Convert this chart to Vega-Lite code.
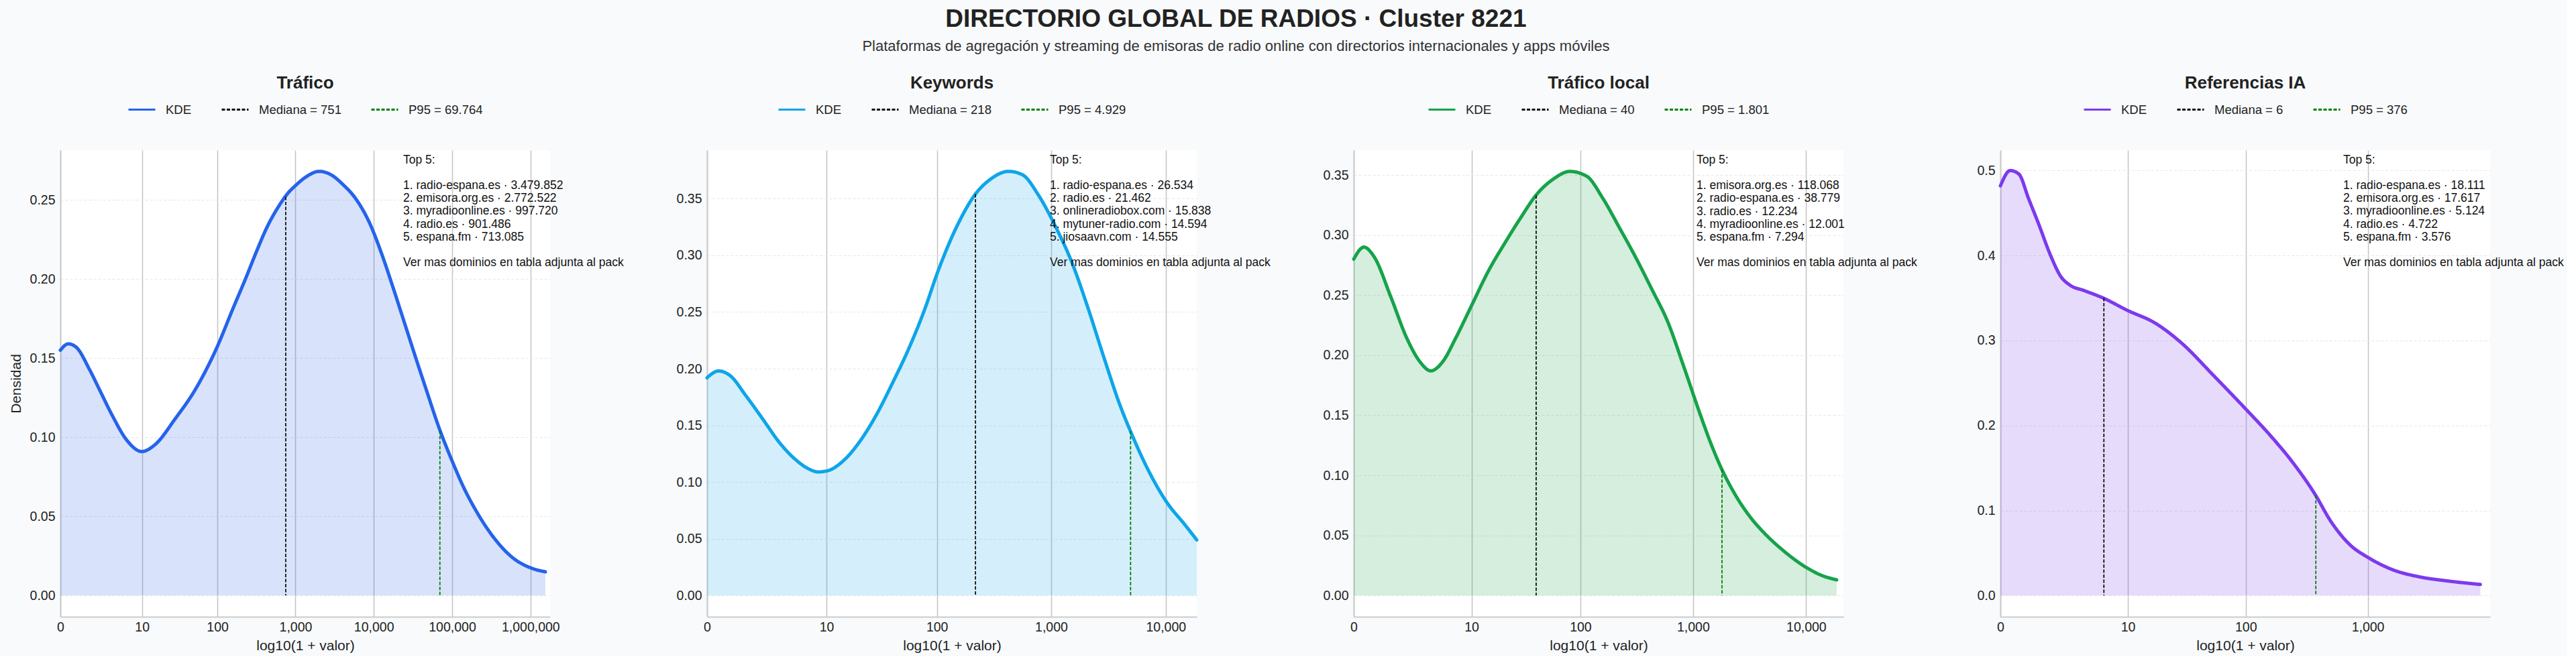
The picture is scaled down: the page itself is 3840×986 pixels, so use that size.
{
  "$schema": "https://vega.github.io/schema/vega-lite/v6.json",
  "background": "#f8fafc",
  "padding": {"left": 13, "top": 10, "right": 5, "bottom": 5},
  "title": {
    "text": "DIRECTORIO GLOBAL DE RADIOS · Cluster 8221",
    "subtitle": "Plataformas de agregación y streaming de emisoras de radio online con directorios internacionales y apps móviles",
    "fontSize": 37,
    "fontWeight": "bold",
    "color": "#222222",
    "subtitleFontSize": 22,
    "subtitleColor": "#333333",
    "subtitlePadding": 11,
    "anchor": "middle",
    "frame": "bounds",
    "dx": -75,
    "offset": 30
  },
  "datasets": {
    "kde_trafico": [
      {"x": 0.00, "densidad": 0.155}, {"x": 0.10, "densidad": 0.159}, {"x": 0.20, "densidad": 0.157},
      {"x": 0.37, "densidad": 0.143}, {"x": 0.50, "densidad": 0.130}, {"x": 0.66, "densidad": 0.114},
      {"x": 0.85, "densidad": 0.098}, {"x": 1.04, "densidad": 0.091}, {"x": 1.20, "densidad": 0.095},
      {"x": 1.47, "densidad": 0.112}, {"x": 1.72, "densidad": 0.130}, {"x": 2.00, "densidad": 0.157},
      {"x": 2.20, "densidad": 0.181}, {"x": 2.37, "densidad": 0.201}, {"x": 2.50, "densidad": 0.217},
      {"x": 2.63, "densidad": 0.232}, {"x": 2.80, "densidad": 0.247}, {"x": 2.90, "densidad": 0.254},
      {"x": 3.00, "densidad": 0.259}, {"x": 3.15, "densidad": 0.265}, {"x": 3.30, "densidad": 0.268},
      {"x": 3.45, "densidad": 0.266}, {"x": 3.60, "densidad": 0.260}, {"x": 3.78, "densidad": 0.250},
      {"x": 3.95, "densidad": 0.235}, {"x": 4.10, "densidad": 0.216}, {"x": 4.25, "densidad": 0.194},
      {"x": 4.40, "densidad": 0.171}, {"x": 4.55, "densidad": 0.148}, {"x": 4.67, "densidad": 0.130},
      {"x": 4.84, "densidad": 0.105}, {"x": 5.00, "densidad": 0.085}, {"x": 5.15, "densidad": 0.068},
      {"x": 5.30, "densidad": 0.054}, {"x": 5.51, "densidad": 0.038}, {"x": 5.77, "densidad": 0.024},
      {"x": 6.03, "densidad": 0.017}, {"x": 6.19, "densidad": 0.015}
    ],
    "kde_keywords": [
      {"x": 0.00, "densidad": 0.192}, {"x": 0.10, "densidad": 0.198}, {"x": 0.20, "densidad": 0.194},
      {"x": 0.34, "densidad": 0.176}, {"x": 0.49, "densidad": 0.155}, {"x": 0.63, "densidad": 0.135},
      {"x": 0.77, "densidad": 0.120}, {"x": 0.88, "densidad": 0.112}, {"x": 0.97, "densidad": 0.109},
      {"x": 1.05, "densidad": 0.110}, {"x": 1.19, "densidad": 0.119}, {"x": 1.34, "densidad": 0.137},
      {"x": 1.48, "densidad": 0.160}, {"x": 1.62, "densidad": 0.188}, {"x": 1.76, "densidad": 0.218},
      {"x": 1.90, "densidad": 0.253}, {"x": 2.01, "densidad": 0.285}, {"x": 2.19, "densidad": 0.328},
      {"x": 2.34, "densidad": 0.354}, {"x": 2.47, "densidad": 0.367}, {"x": 2.63, "densidad": 0.374},
      {"x": 2.75, "densidad": 0.371}, {"x": 2.89, "densidad": 0.353}, {"x": 3.04, "densidad": 0.325},
      {"x": 3.18, "densidad": 0.294}, {"x": 3.32, "densidad": 0.254}, {"x": 3.46, "densidad": 0.210},
      {"x": 3.60, "densidad": 0.168}, {"x": 3.70, "densidad": 0.143}, {"x": 3.83, "densidad": 0.114},
      {"x": 4.01, "densidad": 0.082}, {"x": 4.17, "densidad": 0.062}, {"x": 4.27, "densidad": 0.049}
    ],
    "kde_local": [
      {"x": 0.00, "densidad": 0.280}, {"x": 0.09, "densidad": 0.290}, {"x": 0.18, "densidad": 0.282},
      {"x": 0.33, "densidad": 0.248}, {"x": 0.47, "densidad": 0.214}, {"x": 0.59, "densidad": 0.194},
      {"x": 0.68, "densidad": 0.187}, {"x": 0.79, "densidad": 0.195}, {"x": 0.90, "densidad": 0.214},
      {"x": 1.04, "densidad": 0.241}, {"x": 1.19, "densidad": 0.270}, {"x": 1.34, "densidad": 0.294},
      {"x": 1.48, "densidad": 0.315}, {"x": 1.61, "densidad": 0.333}, {"x": 1.77, "densidad": 0.347},
      {"x": 1.91, "densidad": 0.353}, {"x": 2.06, "densidad": 0.349}, {"x": 2.20, "densidad": 0.331},
      {"x": 2.35, "densidad": 0.306}, {"x": 2.49, "densidad": 0.282}, {"x": 2.63, "densidad": 0.256},
      {"x": 2.78, "densidad": 0.227}, {"x": 2.92, "densidad": 0.190}, {"x": 3.07, "densidad": 0.149},
      {"x": 3.16, "densidad": 0.126}, {"x": 3.24, "densidad": 0.108}, {"x": 3.36, "densidad": 0.086},
      {"x": 3.50, "densidad": 0.066}, {"x": 3.64, "densidad": 0.051}, {"x": 3.79, "densidad": 0.038},
      {"x": 3.99, "densidad": 0.024}, {"x": 4.13, "densidad": 0.017}, {"x": 4.27, "densidad": 0.013}
    ],
    "kde_ia": [
      {"x": 0.00, "densidad": 0.482}, {"x": 0.08, "densidad": 0.500}, {"x": 0.15, "densidad": 0.496},
      {"x": 0.23, "densidad": 0.467}, {"x": 0.31, "densidad": 0.438}, {"x": 0.41, "densidad": 0.400},
      {"x": 0.49, "densidad": 0.376}, {"x": 0.57, "densidad": 0.365}, {"x": 0.68, "densidad": 0.359},
      {"x": 0.84, "densidad": 0.350}, {"x": 1.03, "densidad": 0.336}, {"x": 1.27, "densidad": 0.320},
      {"x": 1.48, "densidad": 0.297}, {"x": 1.74, "densidad": 0.259}, {"x": 2.00, "densidad": 0.220},
      {"x": 2.20, "densidad": 0.189}, {"x": 2.38, "densidad": 0.158}, {"x": 2.57, "densidad": 0.119},
      {"x": 2.70, "densidad": 0.087}, {"x": 2.86, "densidad": 0.059}, {"x": 3.00, "densidad": 0.045},
      {"x": 3.21, "densidad": 0.030}, {"x": 3.42, "densidad": 0.022}, {"x": 3.66, "densidad": 0.017},
      {"x": 3.92, "densidad": 0.013}
    ],
    "ref_trafico": [
      {"serie": "Mediana = 751", "x": 2.8762, "densidad": 0.252},
      {"serie": "P95 = 69.764", "x": 4.8437, "densidad": 0.104}
    ],
    "ref_keywords": [
      {"serie": "Mediana = 218", "x": 2.3404, "densidad": 0.354},
      {"serie": "P95 = 4.929", "x": 3.6928, "densidad": 0.145}
    ],
    "ref_local": [
      {"serie": "Mediana = 40", "x": 1.6128, "densidad": 0.333},
      {"serie": "P95 = 1.801", "x": 3.2558, "densidad": 0.105}
    ],
    "ref_ia": [
      {"serie": "Mediana = 6", "x": 0.8451, "densidad": 0.350},
      {"serie": "P95 = 376", "x": 2.5763, "densidad": 0.118}
    ],
    "top_trafico": [
      {"titulo": "Top 5:", "lista": ["1. radio-espana.es · 3.479.852", "2. emisora.org.es · 2.772.522", "3. myradioonline.es · 997.720", "4. radio.es · 901.486", "5. espana.fm · 713.085"], "nota": "Ver mas dominios en tabla adjunta al pack"}
    ],
    "top_keywords": [
      {"titulo": "Top 5:", "lista": ["1. radio-espana.es · 26.534", "2. radio.es · 21.462", "3. onlineradiobox.com · 15.838", "4. mytuner-radio.com · 14.594", "5. jiosaavn.com · 14.555"], "nota": "Ver mas dominios en tabla adjunta al pack"}
    ],
    "top_local": [
      {"titulo": "Top 5:", "lista": ["1. emisora.org.es · 118.068", "2. radio-espana.es · 38.779", "3. radio.es · 12.234", "4. myradioonline.es · 12.001", "5. espana.fm · 7.294"], "nota": "Ver mas dominios en tabla adjunta al pack"}
    ],
    "top_ia": [
      {"titulo": "Top 5:", "lista": ["1. radio-espana.es · 18.111", "2. emisora.org.es · 17.617", "3. myradioonline.es · 5.124", "4. radio.es · 4.722", "5. espana.fm · 3.576"], "nota": "Ver mas dominios en tabla adjunta al pack"}
    ]
  },
  "bounds": "flush",
  "spacing": 234,
  "hconcat": [
    {
      "width": 730,
      "height": 696,
      "title": "Tráfico",
      "layer": [
        {
          "data": {"name": "kde_trafico"},
          "mark": {"type": "area", "color": "#2563eb", "opacity": 0.18, "interpolate": "monotone"},
          "encoding": {
            "x": {"field": "x", "type": "quantitative", "scale": {"domain": [0, 6.25], "nice": false, "zero": false},
                  "axis": {"title": "log10(1 + valor)", "values": [0, 1.0414, 2.0043, 3.0004, 4.0, 5.0, 6.0],
                           "labelExpr": "datum.value < 0.5 ? '0' : format(pow(10, round(datum.value)), ',')"}},
            "y": {"field": "densidad", "type": "quantitative", "scale": {"domain": [-0.0134, 0.2814], "nice": false, "zero": false},
                  "axis": {"title": "Densidad", "values": [0, 0.05, 0.1, 0.15, 0.2, 0.25], "format": ".2f"}},
            "y2": {"datum": 0}
          }
        },
        {
          "data": {"name": "kde_trafico"},
          "mark": {"type": "line", "strokeWidth": 5, "strokeCap": "round", "strokeJoin": "round", "interpolate": "monotone"},
          "encoding": {
            "x": {"field": "x", "type": "quantitative"},
            "y": {"field": "densidad", "type": "quantitative"},
            "color": {"datum": "KDE", "type": "nominal", "scale": {"domain": ["KDE", "Mediana = 751", "P95 = 69.764"], "range": ["#2563eb", "#111111", "#008000"]}, "legend": {"title": null}},
            "strokeDash": {"datum": "KDE", "type": "nominal", "scale": {"domain": ["KDE", "Mediana = 751", "P95 = 69.764"], "range": [[1, 0], [5, 2.5], [5, 2.5]]}, "legend": {"title": null}}
          }
        },
        {
          "data": {"name": "ref_trafico"},
          "mark": {"type": "rule", "strokeWidth": 1.8},
          "encoding": {
            "x": {"field": "x", "type": "quantitative"},
            "y": {"field": "densidad", "type": "quantitative"},
            "y2": {"datum": 0},
            "color": {"field": "serie", "type": "nominal", "scale": {"domain": ["KDE", "Mediana = 751", "P95 = 69.764"], "range": ["#2563eb", "#111111", "#008000"]}, "legend": {"title": null}},
            "strokeDash": {"field": "serie", "type": "nominal", "scale": {"domain": ["KDE", "Mediana = 751", "P95 = 69.764"], "range": [[1, 0], [5, 2.5], [5, 2.5]]}, "legend": {"title": null}}
          }
        },
        {
          "data": {"name": "top_trafico"},
          "mark": {"type": "text", "align": "left", "baseline": "top", "fontSize": 17.5, "lineHeight": 19.2, "color": "#111111"},
          "encoding": {"x": {"datum": 4.375, "type": "quantitative"}, "y": {"datum": 0.2790, "type": "quantitative"}, "text": {"field": "titulo", "type": "nominal"}}
        },
        {
          "data": {"name": "top_trafico"},
          "mark": {"type": "text", "align": "left", "baseline": "top", "fontSize": 17.5, "lineHeight": 19.2, "color": "#111111", "dy": 38.4},
          "encoding": {"x": {"datum": 4.375, "type": "quantitative"}, "y": {"datum": 0.2790, "type": "quantitative"}, "text": {"field": "lista", "type": "nominal"}}
        },
        {
          "data": {"name": "top_trafico"},
          "mark": {"type": "text", "align": "left", "baseline": "top", "fontSize": 17.5, "lineHeight": 19.2, "color": "#111111", "dy": 153.6},
          "encoding": {"x": {"datum": 4.375, "type": "quantitative"}, "y": {"datum": 0.2790, "type": "quantitative"}, "text": {"field": "nota", "type": "nominal"}}
        }
      ]
    },
    {
      "width": 730,
      "height": 696,
      "title": "Keywords",
      "layer": [
        {
          "data": {"name": "kde_keywords"},
          "mark": {"type": "area", "color": "#0ea5e9", "opacity": 0.18, "interpolate": "monotone"},
          "encoding": {
            "x": {"field": "x", "type": "quantitative", "scale": {"domain": [0, 4.27], "nice": false, "zero": false},
                  "axis": {"title": "log10(1 + valor)", "values": [0, 1.0414, 2.0043, 3.0004, 4.0],
                           "labelExpr": "datum.value < 0.5 ? '0' : format(pow(10, round(datum.value)), ',')"}},
            "y": {"field": "densidad", "type": "quantitative", "scale": {"domain": [-0.0187, 0.3927], "nice": false, "zero": false},
                  "axis": {"title": null, "values": [0, 0.05, 0.1, 0.15, 0.2, 0.25, 0.3, 0.35], "format": ".2f"}},
            "y2": {"datum": 0}
          }
        },
        {
          "data": {"name": "kde_keywords"},
          "mark": {"type": "line", "strokeWidth": 5, "strokeCap": "round", "strokeJoin": "round", "interpolate": "monotone"},
          "encoding": {
            "x": {"field": "x", "type": "quantitative"},
            "y": {"field": "densidad", "type": "quantitative"},
            "color": {"datum": "KDE", "type": "nominal", "scale": {"domain": ["KDE", "Mediana = 218", "P95 = 4.929"], "range": ["#0ea5e9", "#111111", "#008000"]}, "legend": {"title": null}},
            "strokeDash": {"datum": "KDE", "type": "nominal", "scale": {"domain": ["KDE", "Mediana = 218", "P95 = 4.929"], "range": [[1, 0], [5, 2.5], [5, 2.5]]}, "legend": {"title": null}}
          }
        },
        {
          "data": {"name": "ref_keywords"},
          "mark": {"type": "rule", "strokeWidth": 1.8},
          "encoding": {
            "x": {"field": "x", "type": "quantitative"},
            "y": {"field": "densidad", "type": "quantitative"},
            "y2": {"datum": 0},
            "color": {"field": "serie", "type": "nominal", "scale": {"domain": ["KDE", "Mediana = 218", "P95 = 4.929"], "range": ["#0ea5e9", "#111111", "#008000"]}, "legend": {"title": null}},
            "strokeDash": {"field": "serie", "type": "nominal", "scale": {"domain": ["KDE", "Mediana = 218", "P95 = 4.929"], "range": [[1, 0], [5, 2.5], [5, 2.5]]}, "legend": {"title": null}}
          }
        },
        {
          "data": {"name": "top_keywords"},
          "mark": {"type": "text", "align": "left", "baseline": "top", "fontSize": 17.5, "lineHeight": 19.2, "color": "#111111"},
          "encoding": {"x": {"datum": 2.989, "type": "quantitative"}, "y": {"datum": 0.3894, "type": "quantitative"}, "text": {"field": "titulo", "type": "nominal"}}
        },
        {
          "data": {"name": "top_keywords"},
          "mark": {"type": "text", "align": "left", "baseline": "top", "fontSize": 17.5, "lineHeight": 19.2, "color": "#111111", "dy": 38.4},
          "encoding": {"x": {"datum": 2.989, "type": "quantitative"}, "y": {"datum": 0.3894, "type": "quantitative"}, "text": {"field": "lista", "type": "nominal"}}
        },
        {
          "data": {"name": "top_keywords"},
          "mark": {"type": "text", "align": "left", "baseline": "top", "fontSize": 17.5, "lineHeight": 19.2, "color": "#111111", "dy": 153.6},
          "encoding": {"x": {"datum": 2.989, "type": "quantitative"}, "y": {"datum": 0.3894, "type": "quantitative"}, "text": {"field": "nota", "type": "nominal"}}
        }
      ]
    },
    {
      "width": 730,
      "height": 696,
      "title": "Tráfico local",
      "layer": [
        {
          "data": {"name": "kde_local"},
          "mark": {"type": "area", "color": "#16a34a", "opacity": 0.18, "interpolate": "monotone"},
          "encoding": {
            "x": {"field": "x", "type": "quantitative", "scale": {"domain": [0, 4.33], "nice": false, "zero": false},
                  "axis": {"title": "log10(1 + valor)", "values": [0, 1.0414, 2.0043, 3.0004, 4.0],
                           "labelExpr": "datum.value < 0.5 ? '0' : format(pow(10, round(datum.value)), ',')"}},
            "y": {"field": "densidad", "type": "quantitative", "scale": {"domain": [-0.0177, 0.3707], "nice": false, "zero": false},
                  "axis": {"title": null, "values": [0, 0.05, 0.1, 0.15, 0.2, 0.25, 0.3, 0.35], "format": ".2f"}},
            "y2": {"datum": 0}
          }
        },
        {
          "data": {"name": "kde_local"},
          "mark": {"type": "line", "strokeWidth": 5, "strokeCap": "round", "strokeJoin": "round", "interpolate": "monotone"},
          "encoding": {
            "x": {"field": "x", "type": "quantitative"},
            "y": {"field": "densidad", "type": "quantitative"},
            "color": {"datum": "KDE", "type": "nominal", "scale": {"domain": ["KDE", "Mediana = 40", "P95 = 1.801"], "range": ["#16a34a", "#111111", "#008000"]}, "legend": {"title": null}},
            "strokeDash": {"datum": "KDE", "type": "nominal", "scale": {"domain": ["KDE", "Mediana = 40", "P95 = 1.801"], "range": [[1, 0], [5, 2.5], [5, 2.5]]}, "legend": {"title": null}}
          }
        },
        {
          "data": {"name": "ref_local"},
          "mark": {"type": "rule", "strokeWidth": 1.8},
          "encoding": {
            "x": {"field": "x", "type": "quantitative"},
            "y": {"field": "densidad", "type": "quantitative"},
            "y2": {"datum": 0},
            "color": {"field": "serie", "type": "nominal", "scale": {"domain": ["KDE", "Mediana = 40", "P95 = 1.801"], "range": ["#16a34a", "#111111", "#008000"]}, "legend": {"title": null}},
            "strokeDash": {"field": "serie", "type": "nominal", "scale": {"domain": ["KDE", "Mediana = 40", "P95 = 1.801"], "range": [[1, 0], [5, 2.5], [5, 2.5]]}, "legend": {"title": null}}
          }
        },
        {
          "data": {"name": "top_local"},
          "mark": {"type": "text", "align": "left", "baseline": "top", "fontSize": 17.5, "lineHeight": 19.2, "color": "#111111"},
          "encoding": {"x": {"datum": 3.031, "type": "quantitative"}, "y": {"datum": 0.3675, "type": "quantitative"}, "text": {"field": "titulo", "type": "nominal"}}
        },
        {
          "data": {"name": "top_local"},
          "mark": {"type": "text", "align": "left", "baseline": "top", "fontSize": 17.5, "lineHeight": 19.2, "color": "#111111", "dy": 38.4},
          "encoding": {"x": {"datum": 3.031, "type": "quantitative"}, "y": {"datum": 0.3675, "type": "quantitative"}, "text": {"field": "lista", "type": "nominal"}}
        },
        {
          "data": {"name": "top_local"},
          "mark": {"type": "text", "align": "left", "baseline": "top", "fontSize": 17.5, "lineHeight": 19.2, "color": "#111111", "dy": 153.6},
          "encoding": {"x": {"datum": 3.031, "type": "quantitative"}, "y": {"datum": 0.3675, "type": "quantitative"}, "text": {"field": "nota", "type": "nominal"}}
        }
      ]
    },
    {
      "width": 730,
      "height": 696,
      "title": "Referencias IA",
      "layer": [
        {
          "data": {"name": "kde_ia"},
          "mark": {"type": "area", "color": "#7c3aed", "opacity": 0.18, "interpolate": "monotone"},
          "encoding": {
            "x": {"field": "x", "type": "quantitative", "scale": {"domain": [0, 4.0], "nice": false, "zero": false},
                  "axis": {"title": "log10(1 + valor)", "values": [0, 1.0414, 2.0043, 3.0004],
                           "labelExpr": "datum.value < 0.5 ? '0' : format(pow(10, round(datum.value)), ',')"}},
            "y": {"field": "densidad", "type": "quantitative", "scale": {"domain": [-0.025, 0.524], "nice": false, "zero": false},
                  "axis": {"title": null, "values": [0, 0.1, 0.2, 0.3, 0.4, 0.5], "format": ".1f"}},
            "y2": {"datum": 0}
          }
        },
        {
          "data": {"name": "kde_ia"},
          "mark": {"type": "line", "strokeWidth": 5, "strokeCap": "round", "strokeJoin": "round", "interpolate": "monotone"},
          "encoding": {
            "x": {"field": "x", "type": "quantitative"},
            "y": {"field": "densidad", "type": "quantitative"},
            "color": {"datum": "KDE", "type": "nominal", "scale": {"domain": ["KDE", "Mediana = 6", "P95 = 376"], "range": ["#7c3aed", "#111111", "#008000"]}, "legend": {"title": null}},
            "strokeDash": {"datum": "KDE", "type": "nominal", "scale": {"domain": ["KDE", "Mediana = 6", "P95 = 376"], "range": [[1, 0], [5, 2.5], [5, 2.5]]}, "legend": {"title": null}}
          }
        },
        {
          "data": {"name": "ref_ia"},
          "mark": {"type": "rule", "strokeWidth": 1.8},
          "encoding": {
            "x": {"field": "x", "type": "quantitative"},
            "y": {"field": "densidad", "type": "quantitative"},
            "y2": {"datum": 0},
            "color": {"field": "serie", "type": "nominal", "scale": {"domain": ["KDE", "Mediana = 6", "P95 = 376"], "range": ["#7c3aed", "#111111", "#008000"]}, "legend": {"title": null}},
            "strokeDash": {"field": "serie", "type": "nominal", "scale": {"domain": ["KDE", "Mediana = 6", "P95 = 376"], "range": [[1, 0], [5, 2.5], [5, 2.5]]}, "legend": {"title": null}}
          }
        },
        {
          "data": {"name": "top_ia"},
          "mark": {"type": "text", "align": "left", "baseline": "top", "fontSize": 17.5, "lineHeight": 19.2, "color": "#111111"},
          "encoding": {"x": {"datum": 2.8, "type": "quantitative"}, "y": {"datum": 0.5196, "type": "quantitative"}, "text": {"field": "titulo", "type": "nominal"}}
        },
        {
          "data": {"name": "top_ia"},
          "mark": {"type": "text", "align": "left", "baseline": "top", "fontSize": 17.5, "lineHeight": 19.2, "color": "#111111", "dy": 38.4},
          "encoding": {"x": {"datum": 2.8, "type": "quantitative"}, "y": {"datum": 0.5196, "type": "quantitative"}, "text": {"field": "lista", "type": "nominal"}}
        },
        {
          "data": {"name": "top_ia"},
          "mark": {"type": "text", "align": "left", "baseline": "top", "fontSize": 17.5, "lineHeight": 19.2, "color": "#111111", "dy": 153.6},
          "encoding": {"x": {"datum": 2.8, "type": "quantitative"}, "y": {"datum": 0.5196, "type": "quantitative"}, "text": {"field": "nota", "type": "nominal"}}
        }
      ]
    }
  ],
  "resolve": {
    "scale": {"x": "independent", "y": "independent", "color": "independent", "strokeDash": "independent"},
    "legend": {"color": "independent", "strokeDash": "independent"}
  },
  "config": {
    "font": "Liberation Sans",
    "view": {"fill": "#ffffff", "stroke": null},
    "title": {"fontSize": 26, "fontWeight": "bold", "color": "#222222", "anchor": "middle", "offset": 5},
    "axis": {
      "labelFontSize": 19.5,
      "labelColor": "#222222",
      "titleFontSize": 21,
      "titleFontWeight": "normal",
      "titleColor": "#222222",
      "ticks": false,
      "domainColor": "#cccccc",
      "domainWidth": 2,
      "labelFlush": false,
      "labelOverlap": false,
      "labelPadding": 8
    },
    "axisX": {"grid": true, "gridColor": "#c4c4c4", "gridWidth": 1.5, "labelPadding": 6, "titlePadding": 8},
    "axisY": {"grid": true, "gridColor": "#e6e6e6", "gridDash": [4, 3], "gridWidth": 1.2, "titlePadding": 10},
    "legend": {
      "orient": "top",
      "direction": "horizontal",
      "symbolType": "stroke",
      "symbolSize": 1600,
      "symbolStrokeWidth": 3,
      "labelFontSize": 18.5,
      "labelColor": "#222222",
      "labelOffset": 14,
      "columnPadding": 38,
      "offset": 51,
      "layout": {"top": {"anchor": "middle"}}
    }
  }
}
